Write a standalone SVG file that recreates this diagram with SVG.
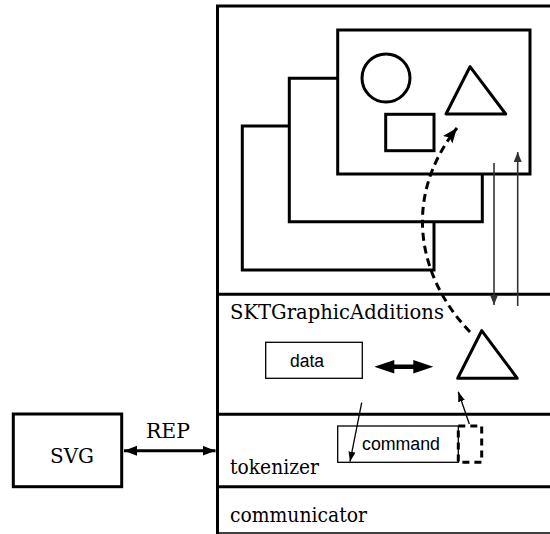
<svg xmlns="http://www.w3.org/2000/svg" width="550" height="534" viewBox="0 0 550 534">
<defs>
<style>
.thick{fill:none;stroke:#000;stroke-width:3}
.thin{fill:none;stroke:#000;stroke-width:1.3}
.serif{font-family:"DejaVu Serif","Liberation Serif",serif;font-size:20.5px;fill:#000}
.sans{font-family:"Liberation Sans",Arial,sans-serif;font-size:18px;fill:#000}
.gray{fill:none;stroke:#333;stroke-width:1.6}
</style>
<marker id="bigHead" markerUnits="userSpaceOnUse" markerWidth="14" markerHeight="11" refX="13" refY="5" orient="auto-start-reverse">
<path d="M0,0 L13,5 L0,10 z" fill="#000"/>
</marker>
<marker id="thinHead" markerUnits="userSpaceOnUse" markerWidth="11" markerHeight="8" refX="10" refY="3.5" orient="auto">
<path d="M0,0 L10,3.5 L0,7 z" fill="#000"/>
</marker>
<marker id="grayHead" markerUnits="userSpaceOnUse" markerWidth="11" markerHeight="9" refX="10" refY="4" orient="auto">
<path d="M0,0 L10,4 L0,8 z" fill="#333"/>
</marker>
<marker id="dashHead" markerUnits="userSpaceOnUse" markerWidth="17" markerHeight="13" refX="15" refY="6" orient="auto">
<path d="M0,0 L15,6 L0,12 L3,6 z" fill="#000"/>
</marker>
</defs>

<g id="frame">
<path class="thick" d="M217.5,534 V6 H552"/>
<line class="thick" x1="217.5" y1="294.3" x2="552" y2="294.3"/>
<line class="thick" x1="217.5" y1="414.3" x2="552" y2="414.3"/>
<line class="thick" x1="217.5" y1="486.7" x2="552" y2="486.7"/>
<line x1="217.5" y1="533" x2="552" y2="533" stroke="#000" stroke-width="1.5"/>
</g>

<g id="back-window">
<path class="thick" d="M289.3,126 H242.3 V270 H434 V221.7"/>
</g>
<g id="middle-window">
<path class="thick" d="M337.7,78.3 H289.3 V221.7 H482.3 V174"/>
</g>
<g id="front-window">
<rect class="thick" x="337.7" y="30" width="192.3" height="144"/>
<circle class="thick" cx="386" cy="78" r="24"/>
<rect class="thick" x="385.7" y="114.3" width="48.3" height="36.4"/>
<polygon class="thick" points="470,66.7 446,114 505.7,114" stroke-linejoin="round"/>
</g>

<g id="SKTGraphicAdditions">
<text class="serif" x="230" y="319" textLength="214" lengthAdjust="spacingAndGlyphs">SKTGraphicAdditions</text>
</g>
<g id="data">
<rect class="thin" x="265.7" y="342.3" width="96.6" height="36"/>
<text class="sans" x="290" y="366.7" textLength="34" lengthAdjust="spacingAndGlyphs">data</text>
</g>
<g id="shape">
<polygon class="thick" points="481.7,330.7 457.7,378.3 517.3,378.3" stroke-linejoin="round"/>
</g>
<g id="tokenizer">
<text class="serif" x="230" y="474.3" textLength="89" lengthAdjust="spacingAndGlyphs">tokenizer</text>
</g>
<g id="command">
<rect class="thin" x="337.7" y="426" width="120.6" height="36.3"/>
<text class="sans" x="362" y="449.5" textLength="78" lengthAdjust="spacingAndGlyphs">command</text>
<path d="M458.3,426 H481.7 V462.3 H458.3 Z" fill="none" stroke="#000" stroke-width="3" stroke-dasharray="7,5"/>
</g>
<g id="communicator">
<text class="serif" x="230" y="521.5" textLength="137" lengthAdjust="spacingAndGlyphs">communicator</text>
</g>
<g id="SVG">
<rect class="thick" x="13.3" y="414" width="108.4" height="72.7"/>
<text class="serif" x="50" y="463" textLength="44" lengthAdjust="spacingAndGlyphs">SVG</text>
</g>

<g id="connectors">
<line x1="124" y1="450.7" x2="215.5" y2="450.7" stroke="#000" stroke-width="3" marker-start="url(#bigHead)" marker-end="url(#bigHead)"/>
<text class="serif" x="146" y="438.3" textLength="44" lengthAdjust="spacingAndGlyphs">REP</text>
<polygon points="374.3,366.7 394.3,360 394.3,364.4 413.3,364.4 413.3,360 433.3,366.7 413.3,373.4 413.3,369 394.3,369 394.3,373.4" fill="#000"/>
<line class="gray" x1="494" y1="163" x2="494" y2="305" marker-end="url(#grayHead)"/>
<line class="gray" x1="517.7" y1="306" x2="517.7" y2="152" marker-end="url(#grayHead)"/>
<line class="thin" x1="361.7" y1="402.7" x2="350" y2="461.7" marker-end="url(#thinHead)"/>
<line class="thin" x1="469.3" y1="424" x2="458.3" y2="391.7" marker-end="url(#thinHead)"/>
<path d="M470,332 C420,280 400,200 457,128" fill="none" stroke="#000" stroke-width="3" stroke-dasharray="8,5" marker-end="url(#dashHead)"/>
</g>
</svg>
